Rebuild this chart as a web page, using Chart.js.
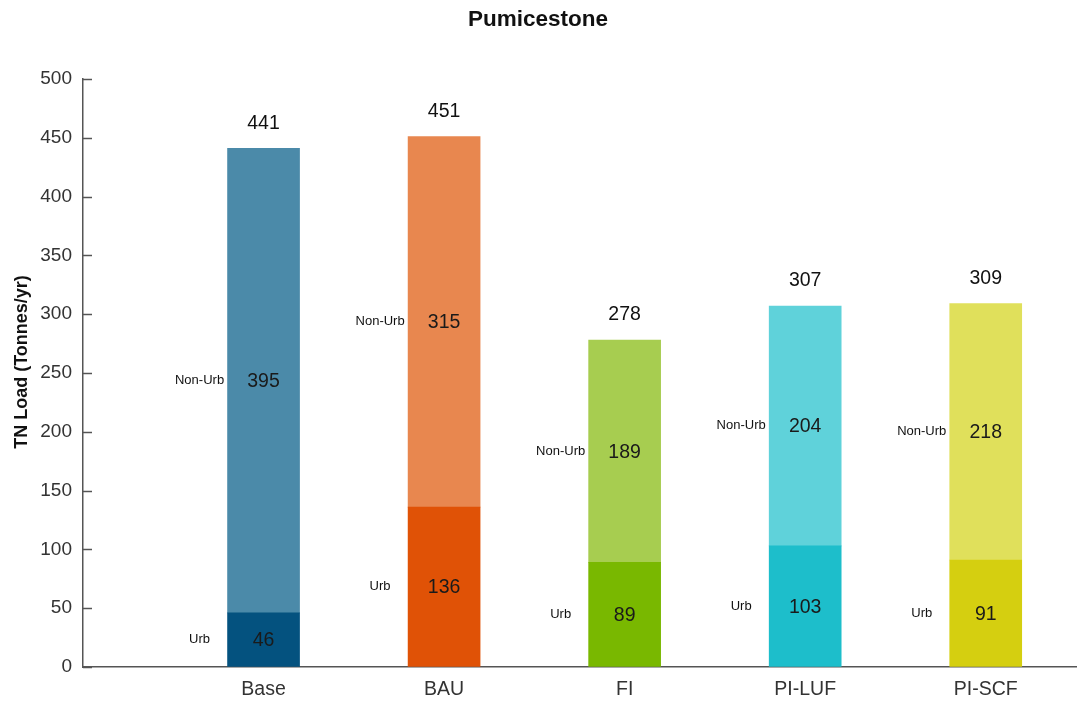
<!DOCTYPE html>
<html>
<head>
<meta charset="utf-8">
<script src="https://cdn.jsdelivr.net/npm/chart.js@4"></script>
<style>
html,body{margin:0;padding:0;background:#fff;}
#wrap{width:1078px;height:705px;}
</style>
</head>
<body>
<div id="wrap"><canvas id="c" width="1078" height="705"></canvas></div>
<script>
const categories = ['Base', 'BAU', 'FI', 'PI-LUF', 'PI-SCF'];
const urbValues = [46, 136, 89, 103, 91];
const nonUrbValues = [395, 315, 189, 204, 218];
const totals = [441, 451, 278, 307, 309];
const seriesNames = ['Urb', 'Non-Urb'];
const urbColors = ['#04527f', '#e05206', '#79b800', '#1dbecb', '#d5cf10'];
const nonUrbColors = ['#4b8aa9', '#e8874f', '#a7cd50', '#5fd2da', '#e0e05b'];
const yTicks = [0, 50, 100, 150, 200, 250, 300, 350, 400, 450, 500];
const yTitle = 'TN Load (Tonnes/yr)';

const FONT = '"Liberation Sans", Arial, sans-serif';

const labelPlugin = {
  id: 'labels',
  afterDatasetsDraw(chart) {
    const ctx = chart.ctx;
    const yScale = chart.scales.y;
    const xScale = chart.scales.x;
    const area = chart.chartArea;
    ctx.save();
    // inward tick marks on y axis
    ctx.strokeStyle = '#555';
    ctx.lineWidth = 1.5;
    yTicks.forEach(v => {
      const py = Math.round(yScale.getPixelForValue(v)) + 0.5;
      ctx.beginPath();
      ctx.moveTo(area.left, py);
      ctx.lineTo(area.left + 9, py);
      ctx.stroke();
    });
    // y axis title
    ctx.save();
    ctx.translate(22, (area.top + area.bottom) / 2 - 11);
    ctx.rotate(-Math.PI / 2);
    ctx.textAlign = 'center';
    ctx.textBaseline = 'middle';
    ctx.fillStyle = '#111';
    ctx.font = 'bold 18px ' + FONT;
    ctx.fillText(yTitle, 0, 0);
    ctx.restore();

    ctx.textAlign = 'center';
    ctx.textBaseline = 'middle';
    chart.data.datasets.forEach((ds, di) => {
      const meta = chart.getDatasetMeta(di);
      meta.data.forEach((bar, i) => {
        const props = bar.getProps(['x', 'y', 'base'], true);
        const cy = (props.y + props.base) / 2;
        ctx.fillStyle = '#1a1a1a';
        ctx.font = '19.5px ' + FONT;
        ctx.fillText(String(ds.data[i].y), props.x, cy + 1);
        ctx.font = '13px ' + FONT;
        ctx.fillStyle = '#111';
        ctx.fillText(seriesNames[di], props.x - 64, cy);
      });
    });
    ctx.font = '19.5px ' + FONT;
    ctx.fillStyle = '#111';
    totals.forEach((t, i) => {
      const px = xScale.getPixelForValue(i + 1);
      const py = yScale.getPixelForValue(t) - 25;
      ctx.fillText(String(t), px, py);
    });
    ctx.restore();
  }
};

new Chart(document.getElementById('c'), {
  type: 'bar',
  data: {
    datasets: [
      {
        label: seriesNames[0],
        data: urbValues.map((v, i) => ({x: i + 1, y: v})),
        backgroundColor: urbColors,
        barThickness: 72,
        borderWidth: 0
      },
      {
        label: seriesNames[1],
        data: nonUrbValues.map((v, i) => ({x: i + 1, y: v})),
        backgroundColor: nonUrbColors,
        barThickness: 72,
        borderWidth: 0
      }
    ]
  },
  options: {
    responsive: false,
    animation: false,
    devicePixelRatio: 1,
    layout: {padding: {left: 0, right: 2, top: 0, bottom: 0}},
    plugins: {
      legend: {display: false},
      tooltip: {enabled: false},
      title: {
        display: true,
        text: 'Pumicestone',
        color: '#111',
        font: {family: FONT, size: 22.5, weight: 'bold'},
        padding: {top: 6, bottom: 46}
      }
    },
    scales: {
      x: {
        type: 'linear',
        stacked: true,
        offset: false,
        min: 0,
        max: 5.5,
        afterBuildTicks(scale) {
          scale.ticks = categories.map((c, i) => ({value: i + 1}));
        },
        afterFit(scale) { scale.height = 38; },
        ticks: {
          callback: (v) => categories[v - 1] || '',
          color: '#333',
          font: {family: FONT, size: 19.5},
          padding: 11,
          maxRotation: 0,
          autoSkip: false
        },
        grid: {color: 'transparent', drawTicks: false, offset: false},
        border: {display: true, color: '#555', width: 1.5}
      },
      y: {
        stacked: true,
        min: 0,
        max: 500,
        afterBuildTicks(scale) {
          scale.ticks = yTicks.map(v => ({value: v}));
        },
        afterFit(scale) { scale.width = 83; },
        ticks: {
          color: '#333',
          font: {family: FONT, size: 19},
          padding: 11
        },
        grid: {color: 'transparent', drawTicks: false},
        border: {display: true, color: '#555', width: 1.5}
      }
    }
  },
  plugins: [labelPlugin]
});
</script>
</body>
</html>
